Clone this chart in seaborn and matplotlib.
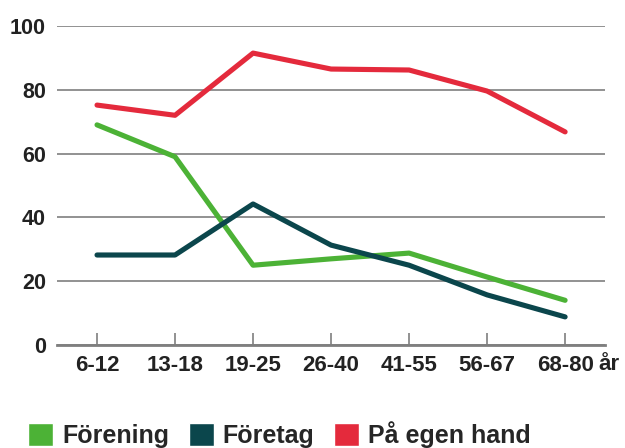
import pandas as pd
import matplotlib.pyplot as plt
import matplotlib.transforms as mtransforms
import seaborn as sns
from matplotlib.patches import Patch

# Data
age_groups = ["6-12", "13-18", "19-25", "26-40", "41-55", "56-67", "68-80"]
forening = [69, 59, 25, 27, 28.8, 21.3, 14]
foretag = [28.2, 28.2, 44.2, 31.3, 25, 15.7, 8.8]
egen_hand = [75.2, 72, 91.5, 86.5, 86.2, 79.6, 66.8]
series_names = ["Förening", "Företag", "På egen hand"]
colors = ["#4cb236", "#0b464c", "#e42a3c"]

df = pd.DataFrame({
    "Ålder": age_groups * 3,
    "Andel": forening + foretag + egen_hand,
    "Serie": [s for s in series_names for _ in age_groups],
})
df["pos"] = df["Ålder"].map({a: i for i, a in enumerate(age_groups)})

sns.set_style("white")
plt.rcParams["font.family"] = ["Liberation Sans", "DejaVu Sans"]

fig = plt.figure(figsize=(6.25, 4.48), dpi=100)
ax = fig.add_axes([0.0912, 0.23, 0.877, 0.712])

sns.lineplot(data=df, x="pos", y="Andel", hue="Serie", palette=colors,
             hue_order=series_names, linewidth=3.7, legend=False, ax=ax)
for line in ax.get_lines():
    line.set_solid_capstyle("round")
    line.set_solid_joinstyle("round")

ax.set_xlim(-0.513, 6.513)
ax.set_ylim(0, 100)
ax.set_yticks([0, 20, 40, 60, 80, 100])
ax.yaxis.grid(True, color="#7f7f7f", linewidth=1.2)
ax.set_axisbelow(True)
ax.set_xticks(range(len(age_groups)))
ax.set_xticklabels(age_groups)
ax.set_xlabel("")
ax.set_ylabel("")

for side in ["top", "right", "left"]:
    ax.spines[side].set_visible(False)
ax.spines["bottom"].set_color("#7f7f7f")
ax.spines["bottom"].set_linewidth(2)

ax.tick_params(axis="x", direction="in", length=9, width=1.2, color="#7f7f7f",
               labelsize=16, pad=7, bottom=True)
ax.tick_params(axis="y", length=0, labelsize=15.5, pad=8)
for t in ax.get_xticklabels() + ax.get_yticklabels():
    t.set_fontweight("bold")
    t.set_color("#222222")

# unit after the last age group
trans = mtransforms.blended_transform_factory(ax.transData, fig.transFigure)
ax.text(6.43, 1 - 370 / 448, "år", transform=trans, ha="left", va="baseline",
        fontsize=16, fontweight="bold", color="#222222", clip_on=False)

handles = [Patch(facecolor=c, label=n) for c, n in zip(colors, series_names)]
fig.legend(handles=handles, loc="lower left", bbox_to_anchor=(0.009, -0.05),
           ncol=3, frameon=False, handlelength=1.0, handleheight=1.05,
           handletextpad=0.35, columnspacing=0.8,
           prop={"weight": "bold", "size": 18})

fig.savefig("out.png", dpi=100)
